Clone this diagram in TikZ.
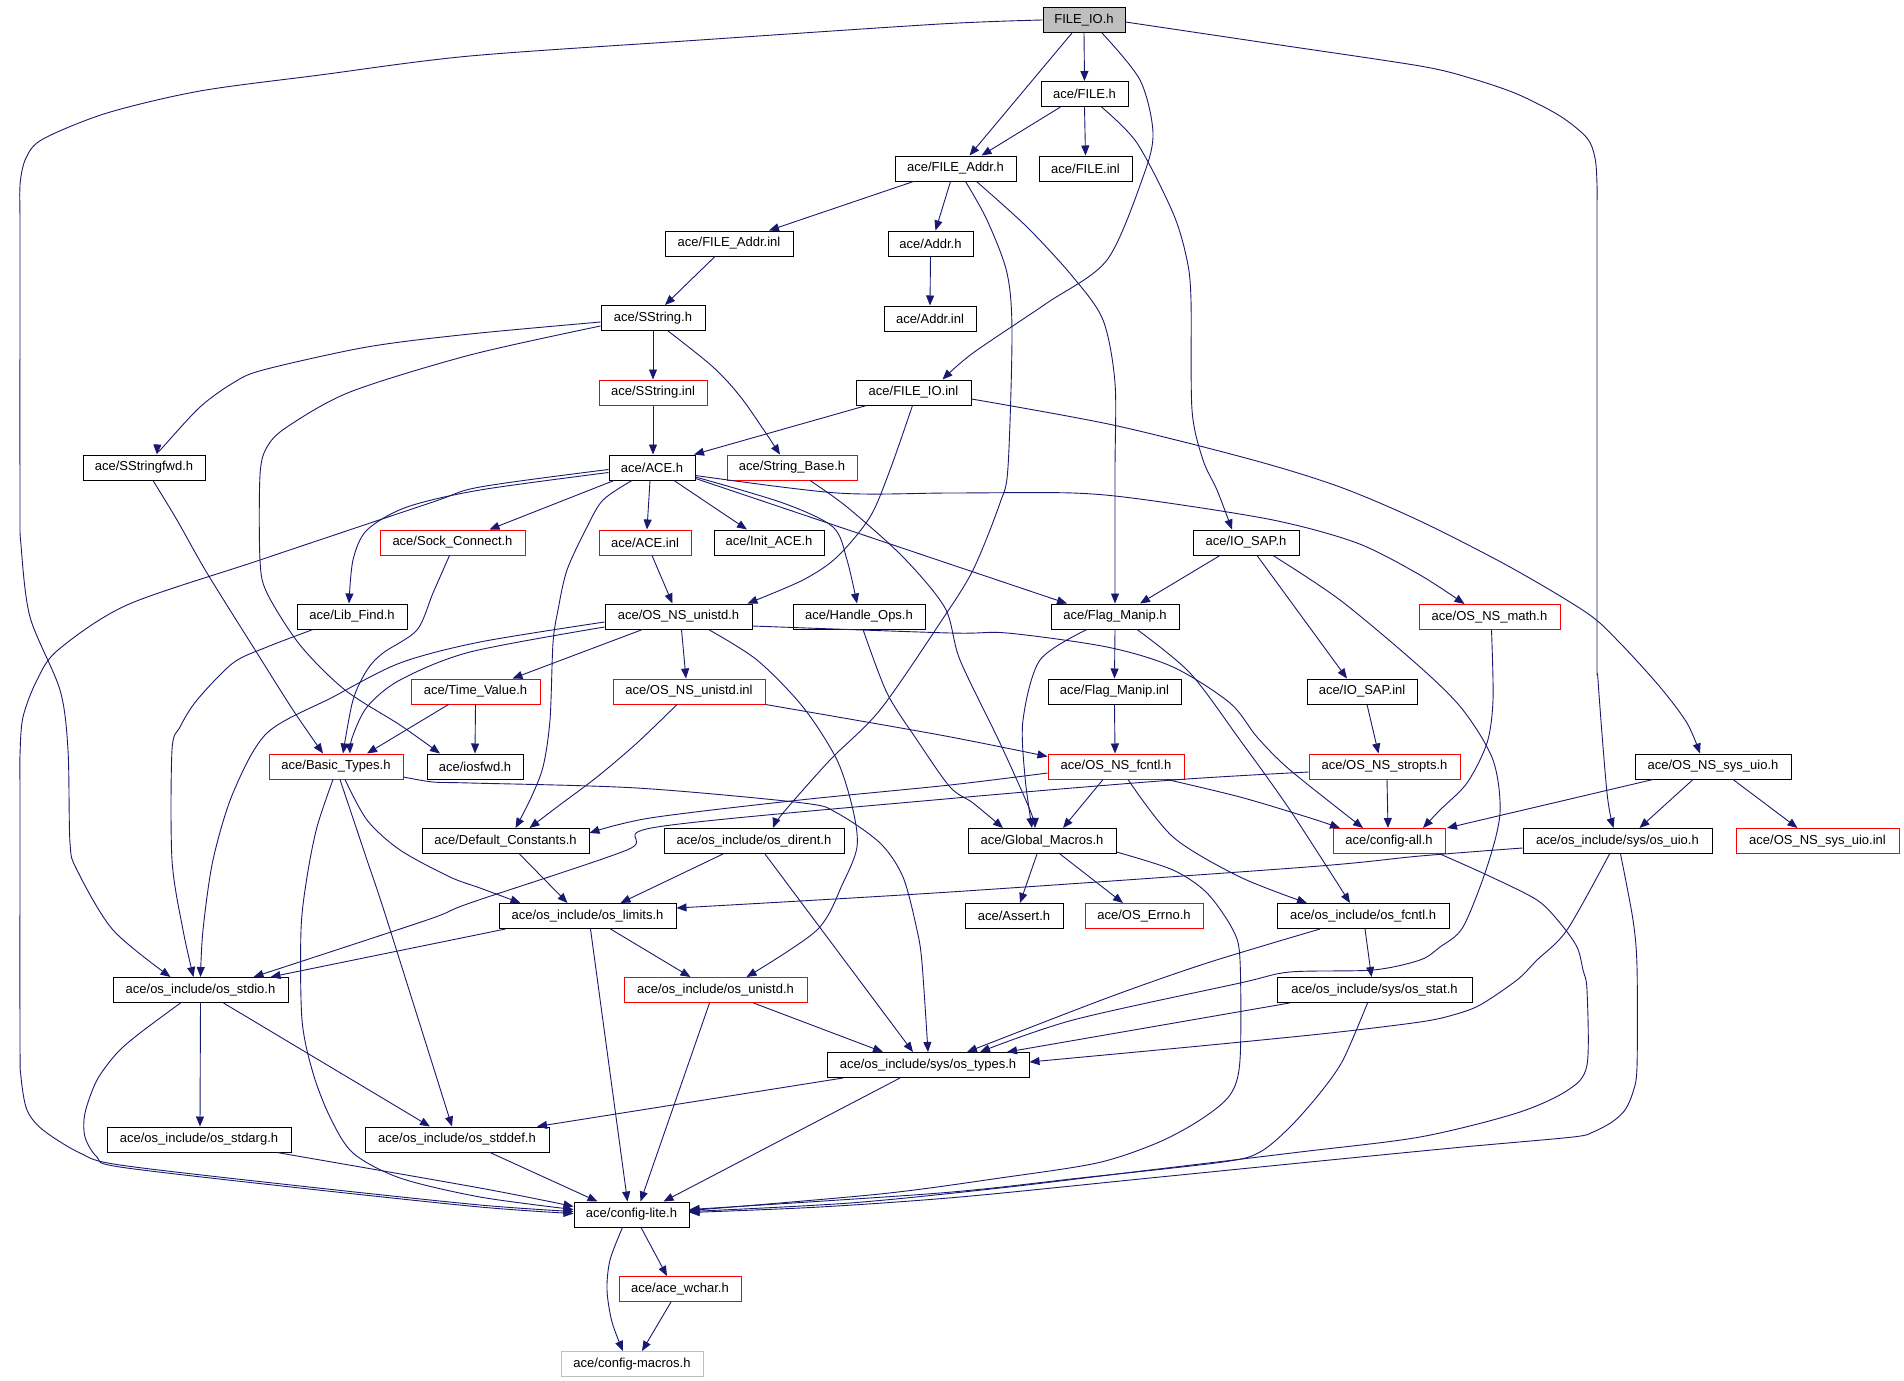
\documentclass[tikz,border=0pt]{standalone}
\usepackage{fontspec}
\setmainfont{Liberation Sans}
\usetikzlibrary{arrows.meta}
\definecolor{edgeblue}{HTML}{191970}
\definecolor{nodegray}{HTML}{BFBFBF}
\newcommand{\myNodeFont}{\fontsize{13pt}{15pt}\selectfont}
\tikzset{
  nb/.style={draw=black, line width=1pt, rectangle, minimum height=25pt, inner sep=0pt, font=\myNodeFont, text=black},
  rb/.style={nb, draw=red},
  gb/.style={nb, draw=nodegray},
  e/.style={draw=edgeblue, line width=0.9pt, -{Triangle[length=10pt,width=8pt]}},
  sp/.style={smooth, tension=0.5}
}
\begin{document}
\begin{tikzpicture}[x=1pt,y=-1pt]
\path[use as bounding box, fill=white] (0,0) rectangle (1904,1381);

% ---------- nodes ----------
\node[nb, fill=nodegray, minimum width=82pt] (fio) at (1084,20) {FILE\_IO.h};
\node[nb, minimum width=87pt] (fileh) at (1084.5,94) {ace/FILE.h};
\node[nb, minimum width=93pt] (fileinl) at (1085.5,168.5) {ace/FILE.inl};
\node[nb, minimum width=121pt] (faddr) at (955.5,168.5) {ace/FILE\_Addr.h};
\node[nb, minimum width=128pt] (faddrinl) at (729,243.5) {ace/FILE\_Addr.inl};
\node[nb, minimum width=85pt] (addrh) at (930.5,243.5) {ace/Addr.h};
\node[nb, minimum width=92pt] (addrinl) at (930,318.5) {ace/Addr.inl};
\node[nb, minimum width=104pt] (ssh) at (653,318) {ace/SString.h};
\node[rb, minimum width=108pt] (ssinl) at (653,392.5) {ace/SString.inl};
\node[nb, minimum width=115pt] (fioinl) at (913.5,392.5) {ace/FILE\_IO.inl};
\node[nb, minimum width=86pt] (aceh) at (652,467.5) {ace/ACE.h};
\node[rb, minimum width=130pt] (strbase) at (792,467.5) {ace/String\_Base.h};
\node[nb, minimum width=122pt] (ssfwd) at (144,467.5) {ace/SStringfwd.h};
\node[rb, minimum width=145pt] (sock) at (452.5,542.5) {ace/Sock\_Connect.h};
\node[rb, minimum width=92pt] (aceinl) at (645,542.5) {ace/ACE.inl};
\node[nb, minimum width=110pt] (initace) at (769,542.5) {ace/Init\_ACE.h};
\node[nb, minimum width=106pt] (iosap) at (1246,542.5) {ace/IO\_SAP.h};
\node[rb, minimum width=141pt] (osmath) at (1489.5,617) {ace/OS\_NS\_math.h};
\node[nb, minimum width=110pt] (libfind) at (352,616.5) {ace/Lib\_Find.h};
\node[nb, minimum width=147pt] (osunistd) at (678.5,616.5) {ace/OS\_NS\_unistd.h};
\node[nb, minimum width=132pt] (handle) at (859,616.5) {ace/Handle\_Ops.h};
\node[nb, minimum width=128pt] (flag) at (1115,616.5) {ace/Flag\_Manip.h};
\node[rb, minimum width=129pt] (timev) at (475.5,691.5) {ace/Time\_Value.h};
\node[rb, minimum width=152pt] (osunistdinl) at (689,691.5) {ace/OS\_NS\_unistd.inl};
\node[nb, minimum width=133pt] (flaginl) at (1114.5,691.5) {ace/Flag\_Manip.inl};
\node[nb, minimum width=110pt] (iosapinl) at (1362,691.5) {ace/IO\_SAP.inl};
\node[rb, minimum width=134pt] (basic) at (336,766.5) {ace/Basic\_Types.h};
\node[nb, minimum width=96pt] (iosfwd) at (475,766.5) {ace/iosfwd.h};
\node[rb, minimum width=136pt] (fcntl) at (1116,766.5) {ace/OS\_NS\_fcntl.h};
\node[rb, minimum width=151pt] (stropts) at (1384.5,766.5) {ace/OS\_NS\_stropts.h};
\node[nb, minimum width=156pt] (sysuio) at (1713,766.5) {ace/OS\_NS\_sys\_uio.h};
\node[nb, minimum width=167pt] (defc) at (505.5,841) {ace/Default\_Constants.h};
\node[nb, minimum width=180pt] (dirent) at (754,841) {ace/os\_include/os\_dirent.h};
\node[nb, minimum width=148pt] (glob) at (1042,841) {ace/Global\_Macros.h};
\node[rb, minimum width=112pt] (cfgall) at (1389,841) {ace/config-all.h};
\node[nb, minimum width=189pt] (osuio) at (1617.5,841) {ace/os\_include/sys/os\_uio.h};
\node[rb, minimum width=163pt] (sysuioinl) at (1817.5,841) {ace/OS\_NS\_sys\_uio.inl};
\node[nb, minimum width=177pt] (limits) at (587.5,916) {ace/os\_include/os\_limits.h};
\node[nb, minimum width=98pt] (assert) at (1014,916) {ace/Assert.h};
\node[rb, minimum width=118pt] (errno) at (1144,916) {ace/OS\_Errno.h};
\node[nb, minimum width=172pt] (osfcntl) at (1363,916) {ace/os\_include/os\_fcntl.h};
\node[nb, minimum width=175pt] (stdio) at (200.5,990) {ace/os\_include/os\_stdio.h};
\node[rb, minimum width=183pt] (osunistdh) at (715.5,990) {ace/os\_include/os\_unistd.h};
\node[nb, minimum width=195pt] (stat) at (1374.5,990) {ace/os\_include/sys/os\_stat.h};
\node[nb, minimum width=202pt] (types) at (928,1065) {ace/os\_include/sys/os\_types.h};
\node[nb, minimum width=184pt] (stdarg) at (199,1139.5) {ace/os\_include/os\_stdarg.h};
\node[nb, minimum width=184pt] (stddef) at (457,1139.5) {ace/os\_include/os\_stddef.h};
\node[nb, minimum width=115pt] (lite) at (631.5,1214.5) {ace/config-lite.h};
\node[rb, minimum width=122pt] (wchar) at (680,1289) {ace/ace\_wchar.h};
\node[gb, minimum width=142pt] (macros) at (632,1364) {ace/config-macros.h};

% ---------- edges ----------
% FILE_IO.h
\draw[e] (fio.south) -- (fileh.north);
\draw[e] ([xshift=-12pt]fio.south) -- ([xshift=14pt]faddr.north);
\draw[e] plot[sp] coordinates {([xshift=18pt]fio.south) (1140,80) (1153,133) (1143,177) (1107,260) (1047,303) (973,353) ([xshift=29pt]fioinl.north)};
\draw[e] plot[sp] coordinates {(fio.west) (940,24) (700,40) (470,56) (320,75) (200,91) (107,113) (43,139) (26,158) (20,185) (20,230) (20,500) (21,545) (30,617) (60,690) (68,750) (70,843) (77,870) (113,930) ([xshift=-30pt]stdio.north)};
\draw[e] plot[sp] coordinates {([yshift=-2pt]fio.east) (1280,45) (1420,66) (1470,78) (1517,94) (1560,116) (1587,138) (1595,158) (1597,185) (1597,230) (1597,640) (1598,680) (1607,793) ([xshift=-4pt]osuio.north)};
% FILE.h
\draw[e] (fileh.south) -- (fileinl.north);
\draw[e] ([xshift=-24pt]fileh.south) -- ([xshift=26pt]faddr.north);
\draw[e] plot[sp] coordinates {([xshift=17pt]fileh.south) (1137,143) (1173,213) (1187,260) (1191,300) (1192,410) (1203,460) (1217,490) ([xshift=-14pt]iosap.north)};
% FILE_Addr.h
\draw[e] ([xshift=-42pt]faddr.south) -- ([xshift=40pt]faddrinl.north);
\draw[e] ([xshift=-5pt]faddr.south) -- ([xshift=5pt]addrh.north);
\draw[e] plot[sp] coordinates {([xshift=10pt]faddr.south) (987,220) (1007,273) (1012,333) (1008,467) (1000,503) (973,570) (940,623) (880,710) (830,760) (783,813) ([xshift=19pt]dirent.north)};
\draw[e] plot[sp] coordinates {([xshift=21pt]faddr.south) (1027,227) (1073,277) (1103,320) (1115,383) (1115,470) (flag.north)};
\draw[e] ([xshift=-14pt]faddrinl.south) -- ([xshift=12pt]ssh.north);
\draw[e] (addrh.south) -- (addrinl.north);
% SString.h
\draw[e] (ssh.south) -- (ssinl.north);
\draw[e] plot[sp] coordinates {([xshift=15pt]ssh.south) (713,367) (743,400) ([xshift=-12pt]strbase.north)};
\draw[e] plot[sp] coordinates {([yshift=-4pt]ssh.west) (470,334) (367,347) (263,370) (233,383) (200,407) (163,447) ([xshift=13pt]ssfwd.north)};
\draw[e] plot[sp] coordinates {([yshift=-8pt]ssh.west) (470,355) (350,392) (287,427) (267,447) (260,475) (260,560) (267,593) (300,645) (345,690) (400,725) ([xshift=-35pt]iosfwd.north)};
\draw[e] (ssinl.south) -- ([xshift=1pt]aceh.north);
% FILE_IO.inl
\draw[e] ([xshift=-47pt]fioinl.south) -- ([xshift=42pt]aceh.north);
\draw[e] plot[sp] coordinates {([xshift=-1pt]fioinl.south) (890,470) (870,517) (837,557) (803,580) ([xshift=69pt]osunistd.north)};
\draw[e] plot[sp] coordinates {([yshift=-6.5pt]fioinl.east) (1113,425) (1253,460) (1340,487) (1420,521) (1510,567) (1587,613) (1620,643) (1660,687) (1687,723) ([xshift=-13pt]sysuio.north)};
% ACE.h
\draw[e] ([xshift=-2pt]aceh.south) -- ([xshift=2pt]aceinl.north);
\draw[e] ([xshift=-38pt]aceh.south) -- ([xshift=37pt]sock.north);
\draw[e] ([xshift=22pt]aceh.south) -- ([xshift=-22pt]initace.north);
\draw[e] plot[sp] coordinates {([yshift=-5pt]aceh.west) (480,490) (407,507) (367,530) (353,560) ([xshift=-3pt]libfind.north)};
\draw[e] plot[sp] coordinates {([yshift=-2pt]aceh.west) (480,487) (430,503) (260,560) (127,605) (58,650) (37,680) (23,717) (20,755) (20,800) (20,1040) (21,1077) (27,1110) (43,1130) (80,1153) (120,1165) (300,1186) (480,1205) ([yshift=3pt]lite.west)};
\draw[e] plot[sp] coordinates {([xshift=-20pt]aceh.south) (603,500) (587,527) (567,570) (558,610) (553,643) (550,720) (543,767) (530,800) ([xshift=10pt]defc.north)};
\draw[e] plot[sp] coordinates {([yshift=-9.5pt]aceh.east) (783,503) (833,527) (847,560) ([xshift=-2pt]handle.north)};
\draw[e] ([yshift=-11pt]aceh.east) -- ([xshift=-48pt]flag.north);
\draw[e] plot[sp] coordinates {([yshift=-8pt]aceh.east) (837,493) (950,493) (1073,493) (1147,500) (1273,520) (1357,543) (1420,575) ([xshift=-25pt]osmath.north)};
% Sock_Connect, ACE.inl, Lib_Find, SStringfwd
\draw[e] plot[sp] coordinates {([xshift=-3pt]sock.south) (433,593) (417,630) (383,653) (367,670) (353,700) ([xshift=7pt]basic.north)};
\draw[e] ([xshift=7pt]aceinl.south) -- ([xshift=-6pt]osunistd.north);
\draw[e] plot[sp] coordinates {([xshift=-39pt]libfind.south) (267,647) (233,663) (197,700) (180,727) (172,750) (172,860) (183,930) ([xshift=-7pt]stdio.north)};
\draw[e] plot[sp] coordinates {([xshift=9pt]ssfwd.south) (177,520) (207,573) (257,653) (293,710) ([xshift=-13pt]basic.north)};
% OS_NS_unistd.h
\draw[e] ([xshift=-36pt]osunistd.south) -- ([xshift=37pt]timev.north);
\draw[e] ([xshift=3pt]osunistd.south) -- ([xshift=-3pt]osunistdinl.north);
\draw[e] plot[sp] coordinates {([yshift=-5.5pt]osunistd.west) (480,642) (400,663) (333,697) (267,733) (233,793) (213,860) (203,930) (stdio.north)};
\draw[e] plot[sp] coordinates {([yshift=-10.5pt]osunistd.west) (470,652) (400,680) (367,707) (352,738) ([xshift=14pt]basic.north)};
\draw[e] plot[sp] coordinates {([yshift=-9.5pt]osunistd.east) (950,633) (1007,633) (1107,647) (1173,667) (1230,703) (1257,737) (1290,770) ([xshift=-26pt]cfgall.north)};
\draw[e] plot[sp] coordinates {([xshift=30pt]osunistd.south) (757,660) (803,707) (837,760) (853,810) (857,847) (843,883) (817,930) ([xshift=31pt]osunistdh.north)};
% Handle_Ops, String_Base, Flag_Manip
\draw[e] plot[sp] coordinates {([xshift=4pt]handle.south) (887,693) (917,740) (950,787) (973,803) ([xshift=-39pt]glob.north)};
\draw[e] plot[sp] coordinates {([xshift=18pt]strbase.south) (847,507) (903,557) (945,608) (960,660) (1000,743) (1030,810) ([xshift=-7pt]glob.north)};
\draw[e] (flag.south) -- (flaginl.north);
\draw[e] plot[sp] coordinates {([xshift=-28pt]flag.south) (1040,660) (1023,720) (1025,777) ([xshift=-10pt]glob.north)};
\draw[e] plot[sp] coordinates {([xshift=22pt]flag.south) (1190,673) (1240,740) (1290,810) ([xshift=-13pt]osfcntl.north)};
% IO_SAP.h
\draw[e] ([xshift=-26pt]iosap.south) -- ([xshift=25pt]flag.north);
\draw[e] ([xshift=11pt]iosap.south) -- ([xshift=-15pt]iosapinl.north);
\draw[e] plot[sp] coordinates {([xshift=27pt]iosap.south) (1340,600) (1420,667) (1463,710) (1493,760) (1500,813) (1487,867) (1463,927) (1440,947) (1420,960) (1373,970) (1290,972) (1240,983) (1073,1020) ([xshift=52pt]types.north)};
\draw[e] plot[sp] coordinates {([xshift=2pt]osmath.south) (1493,700) (1487,743) (1467,783) (1440,810) ([xshift=34pt]cfgall.north)};
% Time_Value, OS_NS_unistd.inl, Flag_Manip.inl, IO_SAP.inl
\draw[e] ([xshift=-27pt]timev.south) -- ([xshift=31pt]basic.north);
\draw[e] (timev.south) -- (iosfwd.north);
\draw[e] plot[sp] coordinates {([xshift=-12pt]osunistdinl.south) (637,743) (597,777) (557,807) ([xshift=24pt]defc.north)};
\draw[e] plot[sp] coordinates {(osunistdinl.south east) (940,735) ([yshift=-3pt]fcntl.north west)};
\draw[e] (flaginl.south) -- ([xshift=-1pt]fcntl.north);
\draw[e] ([xshift=5pt]iosapinl.south) -- ([xshift=-6pt]stropts.north);
% Basic_Types
\draw[e] plot[sp] coordinates {([xshift=-3pt]basic.south) (317,827) (307,877) (301,930) (302,1020) (313,1073) (330,1117) (353,1153) (400,1178) (480,1197) ([yshift=5pt]lite.west)};
\draw[e] plot[sp] coordinates {([xshift=4pt]basic.south) (367,860) (387,920) ([xshift=-5pt]stddef.north)};
\draw[e] plot[sp] coordinates {([xshift=9pt]basic.south) (367,820) (400,850) (450,877) (480,888) ([xshift=-67pt]limits.north)};
\draw[e] plot[sp] coordinates {([yshift=-10.5pt]basic.east) (433,782) (470,783) (637,788) (803,803) (837,813) (880,843) (903,877) (917,930) (922,963) (types.north)};
% OS_NS_fcntl.h
\draw[e] ([xshift=-13pt]fcntl.south) -- ([xshift=21pt]glob.north);
\draw[e] plot[sp] coordinates {([xshift=51pt]fcntl.south) (1240,797) (1307,817) ([xshift=-49pt]cfgall.north)};
\draw[e] plot[sp] coordinates {([xshift=12pt]fcntl.south) (1173,837) (1240,877) ([xshift=-56pt]osfcntl.north)};
\draw[e] plot[sp] coordinates {([yshift=-6.5pt]fcntl.west) (950,785) (800,800) (650,818) ([yshift=8pt]defc.east)};
% OS_NS_stropts.h
\draw[e] ([xshift=2.5pt]stropts.south) -- ([xshift=-1pt]cfgall.north);
\draw[e] plot[sp] coordinates {([yshift=-5.5pt]stropts.west) (1173,780) (945,799) (657,827) (627,850) (470,903) (427,920) ([xshift=53pt]stdio.north)};
% OS_NS_sys_uio.h
\draw[e] ([xshift=-60pt]sysuio.south) -- ([xshift=58pt]cfgall.north);
\draw[e] ([xshift=-20pt]sysuio.south) -- ([xshift=22pt]osuio.north);
\draw[e] ([xshift=20pt]sysuio.south) -- ([xshift=-20pt]sysuioinl.north);
% Default_Constants, os_dirent
\draw[e] ([xshift=14pt]defc.south) -- ([xshift=-20pt]limits.north);
\draw[e] ([xshift=-31pt]dirent.south) -- ([xshift=33pt]limits.north);
\draw[e] ([xshift=11pt]dirent.south) -- ([xshift=-15pt]types.north);
% Global_Macros
\draw[e] ([xshift=-5pt]glob.south) -- ([xshift=6pt]assert.north);
\draw[e] ([xshift=18pt]glob.south) -- ([xshift=-21pt]errno.north);
\draw[e] plot[sp] coordinates {([yshift=2pt]glob.south east) (1173,870) (1207,893) (1233,930) (1240,960) (1240,1060) (1230,1095) (1200,1120) (1157,1143) (1097,1163) (1000,1178) (880,1194) ([yshift=4pt]lite.east)};
% config-all
\draw[e] plot[sp] coordinates {([xshift=51pt]cfgall.south) (1487,875) (1537,900) (1560,923) (1577,947) (1583,970) (1587,990) (1587,1065) (1568,1090) (1517,1113) (1420,1137) (1300,1152) (1150,1170) (1000,1188) (850,1203) ([yshift=3pt]lite.east)};
% os_uio
\draw[e] plot[sp] coordinates {([yshift=-7pt]osuio.west) (1420,856) (1307,867) (950,892) ([yshift=8pt]limits.east)};
\draw[e] plot[sp] coordinates {([xshift=-8pt]osuio.south) (1567,930) (1537,960) (1517,980) (1480,1005) (1453,1015) (1420,1022) (1330,1033) (1200,1046) ([yshift=3pt]types.east)};
\draw[e] plot[sp] coordinates {([xshift=3pt]osuio.south) (1633,920) (1637,967) (1637,1067) (1633,1092) (1625,1110) (1612,1122) (1593,1132) (1573,1137) (1463,1147) (1330,1160) (1150,1178) (960,1197) (820,1207) ([yshift=2pt]lite.east)};
% os_limits
\draw[e] ([xshift=-82pt]limits.south) -- ([xshift=70pt]stdio.north);
\draw[e] ([xshift=23pt]limits.south) -- ([xshift=-25pt]osunistdh.north);
\draw[e] ([xshift=3pt]limits.south) -- ([xshift=-4pt]lite.north);
% os_stdio
\draw[e] (stdio.south) -- ([xshift=1pt]stdarg.north);
\draw[e] ([xshift=23pt]stdio.south) -- ([xshift=-27pt]stddef.north);
\draw[e] plot[sp] coordinates {([xshift=-20pt]stdio.south) (140,1033) (117,1053) (97,1080) (85,1113) (85,1137) (97,1157) (120,1167) (300,1188) (480,1207) ([yshift=1pt]lite.west)};
% os_unistd
\draw[e] ([xshift=38pt]osunistdh.south) -- ([xshift=-45pt]types.north);
\draw[e] ([xshift=-6pt]osunistdh.south) -- ([xshift=9pt]lite.north);
% os_fcntl, os_stat
\draw[e] ([xshift=2pt]osfcntl.south) -- ([xshift=-3pt]stat.north);
\draw[e] plot[sp] coordinates {([xshift=-43pt]osfcntl.south) (1207,963) (1107,998) ([xshift=39pt]types.north)};
\draw[e] ([xshift=-85pt]stat.south) -- ([xshift=79pt]types.north);
\draw[e] plot[sp] coordinates {([xshift=-7pt]stat.south) (1343,1060) (1320,1093) (1290,1127) (1260,1152) (1223,1162) (1080,1178) (940,1193) ([yshift=5pt]lite.east)};
% os_types
\draw[e] ([xshift=-85pt]types.south) -- ([xshift=80pt]stddef.north);
\draw[e] ([xshift=-28pt]types.south) -- ([xshift=32pt]lite.north);
% bottom
\draw[e] plot[sp] coordinates {([xshift=78pt]stdarg.south) (480,1188) ([yshift=8pt]lite.west)};
\draw[e] ([xshift=33pt]stddef.south) -- ([xshift=-34pt]lite.north);
\draw[e] ([xshift=9.5pt]lite.south) -- ([xshift=-13pt]wchar.north);
\draw[e] plot[sp] coordinates {([xshift=-9pt]lite.south) (610,1260) (607,1290) (612,1322) ([xshift=-9pt]macros.north)};
\draw[e] ([xshift=-9pt]wchar.south) -- ([xshift=10pt]macros.north);
\end{tikzpicture}
\end{document}
